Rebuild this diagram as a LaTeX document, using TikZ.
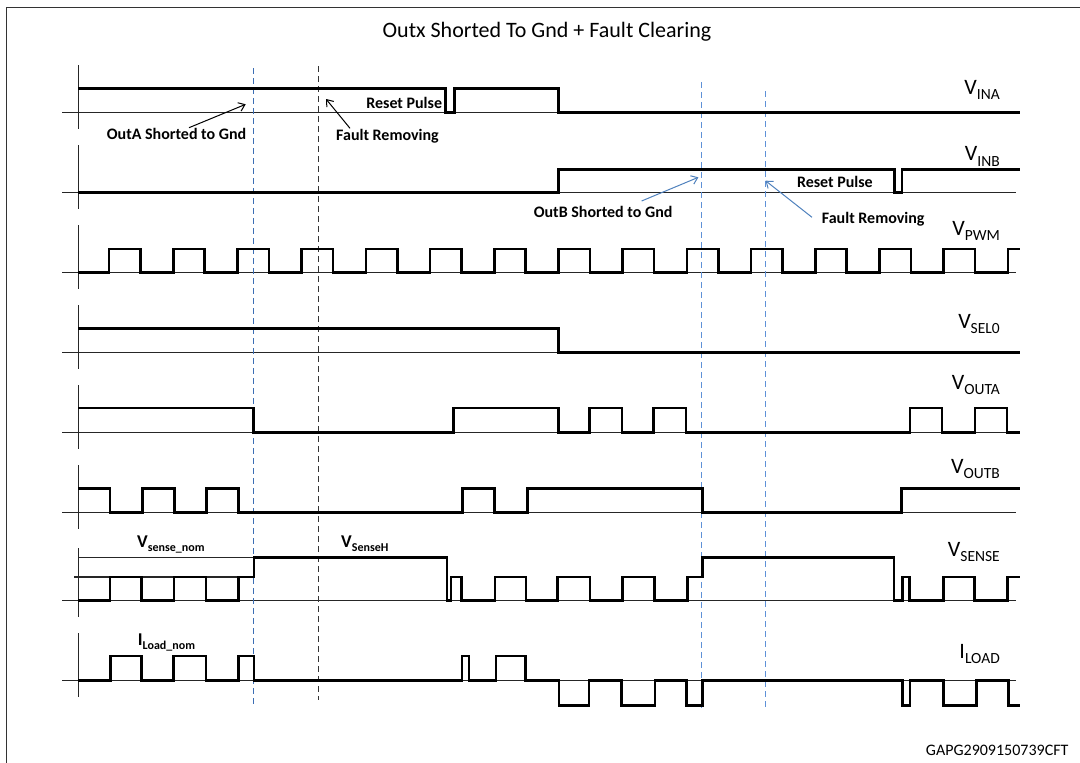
\documentclass[tikz,border=0pt]{standalone}
\usepackage{fontspec}
\setmainfont{Carlito}
\usetikzlibrary{arrows.meta}
\definecolor{dblue}{RGB}{60,110,180}
\definecolor{lblue}{RGB}{95,145,215}
\definecolor{ablue}{RGB}{79,129,189}
\newcommand{\siglab}[2]{{\fontsize{22}{24}\selectfont #1\raisebox{-5.5pt}{\fontsize{15.5}{16}\selectfont #2}}}
\newcommand{\boldlab}[2]{{\bfseries\fontsize{18}{20}\selectfont #1\raisebox{-4pt}{\fontsize{12}{13}\selectfont #2}}}
\tikzset{
  sigline/.style={line width=2.6pt, line join=miter, black},
  axisline/.style={line width=1.2pt, black!85},
  frameline/.style={line width=1.4pt, black!80},
  mark1/.style={dashed, dash pattern=on 6pt off 4pt, line width=1.1pt, dblue},
  mark2/.style={dashed, dash pattern=on 6pt off 4pt, line width=1.1pt, black!80},
  mark3/.style={dashed, dash pattern=on 6pt off 4pt, line width=1.1pt, lblue},
  siglabel/.style={anchor=base east, inner sep=0pt},
  annot/.style={font=\bfseries\fontsize{16}{18}\selectfont, inner sep=0pt},
  barrow/.style={line width=1pt, black, -{Straight Barb[length=6pt,width=9pt]}},
  bluearrow/.style={line width=1pt, ablue, -{Straight Barb[length=6pt,width=9pt]}}
}
\begin{document}
\begin{tikzpicture}[x=1pt,y=-1pt]
\useasboundingbox (0,0) rectangle (1080,763);
% frame
\draw[frameline] (6.2,763) -- (6.2,7.3) -- (1080,7.3);
\node[inner sep=0pt, font=\fontsize{22}{24}\selectfont] (title) at (547,31.7) {Outx Shorted To Gnd + Fault Clearing};

% axes
\foreach \y/\t in {112.5/47.3,192.5/47.3,272.5/47.3,352.5/47.3,432.7/47.3,512.7/47.3,600.7/52.4,680.7/47.3}{
  \draw[axisline] (62,\y) -- (1016,\y);
  \draw[axisline] (78.3,\y-\t) -- (78.3,\y+16);
}
% VSENSE reference lines
\draw[axisline] (74,577) -- (254,577);
\draw[axisline] (78.3,557.5) -- (254,557.5);

% marker lines
\draw[mark1] (253.3,68) -- (253.3,706);
\draw[mark2] (318.3,66) -- (318.3,700);
\draw[mark3] (701.7,82) -- (701.7,711.7);
\draw[mark3] (765.7,91) -- (765.7,706.7);

% VINA
\draw[sigline] (78.3,88.5) -- (445.7,88.5) -- (445.7,112.5) -- (454.3,112.5) -- (454.3,88.5) -- (558.3,88.5) -- (558.3,112.5) -- (1020,112.5);
% VINB
\draw[sigline] (78.3,192.5) -- (558.3,192.5) -- (558.3,169.3) -- (894.5,169.3) -- (894.5,192.5) -- (902,192.5) -- (902,169.3) -- (1020,169.3);
% VPWM
\draw[sigline] (78.3,272.5) \foreach \k in {0,...,13}{ -- ({109+64.2*\k},272.5) -- ++(0,-23.5) -- ++(31.5,0) -- ++(0,23.5) } -- (1007.8,272.5) -- (1007.8,249) -- (1020,249);
% VSEL0
\draw[sigline] (78.3,328.5) -- (558.3,328.5) -- (558.3,352.5) -- (1020,352.5);
% VOUTA
\draw[sigline] (78.3,408) -- (253.3,408) -- (253.3,432.7) -- (453.3,432.7) -- (453.3,408) -- (558.3,408) -- (558.3,432.7) -- (589.5,432.7) -- (589.5,408) -- (622,408) -- (622,432.7) -- (653.5,432.7) -- (653.5,408) -- (686,408) -- (686,432.7) -- (910,432.7) -- (910,408) -- (942,408) -- (942,432.7) -- (975,432.7) -- (975,408) -- (1007,408) -- (1007,432.7) -- (1020,432.7);
% VOUTB
\draw[sigline] (78.3,488.5) -- (110,488.5) -- (110,512.7) -- (142.3,512.7) -- (142.3,488.5) -- (174.3,488.5) -- (174.3,512.7) -- (206.7,512.7) -- (206.7,488.5) -- (238.7,488.5) -- (238.7,512.7) -- (462.7,512.7) -- (462.7,488.5) -- (494.3,488.5) -- (494.3,512.7) -- (527.3,512.7) -- (527.3,488.5) -- (702.3,488.5) -- (702.3,512.7) -- (901.7,512.7) -- (901.7,488.5) -- (1020,488.5);
% VSENSE
\draw[sigline] (78.3,600.7) -- (110,600.7) -- (110,577) -- (141.2,577) -- (141.2,600.7) -- (173.9,600.7) -- (173.9,577) -- (206,577) -- (206,600.7) -- (238.6,600.7) -- (238.6,577) -- (254,577) -- (254,557.5) -- (447,557.5) -- (447,600.7) -- (451,600.7) -- (451,577) -- (461.4,577) -- (461.4,600.7) -- (494.8,600.7) -- (494.8,577) -- (525.8,577) -- (525.8,600.7) -- (557.3,600.7) -- (557.3,577) -- (590,577) -- (590,600.7) -- (622.3,600.7) -- (622.3,577) -- (654.3,577) -- (654.3,600.7) -- (687.3,600.7) -- (687.3,577) -- (702.3,577) -- (702.3,557.5) -- (894,557.5) -- (894,600.7) -- (902.7,600.7) -- (902.7,577) -- (909.3,577) -- (909.3,600.7) -- (943.3,600.7) -- (943.3,577) -- (974.3,577) -- (974.3,600.7) -- (1007.7,600.7) -- (1007.7,577) -- (1020,577);
% ILOAD
\draw[sigline] (78.3,680.7) -- (110.2,680.7) -- (110.2,656) -- (141.2,656) -- (141.2,680.7) -- (173.2,680.7) -- (173.2,656) -- (206,656) -- (206,680.7) -- (238.3,680.7) -- (238.3,656) -- (254.1,656) -- (254.1,680.7) -- (462.1,680.7) -- (462.1,656) -- (469,656) -- (469,680.7) -- (495.9,680.7) -- (495.9,656) -- (525.2,656) -- (525.2,680.7) -- (559,680.7) -- (559,705.7) -- (589,705.7) -- (589,680.7) -- (621.7,680.7) -- (621.7,705.7) -- (655,705.7) -- (655,680.7) -- (686.7,680.7) -- (686.7,705.7) -- (702.3,705.7) -- (702.3,680.7) -- (902.7,680.7) -- (902.7,705.7) -- (910,705.7) -- (910,680.7) -- (943.3,680.7) -- (943.3,705.7) -- (976.7,705.7) -- (976.7,680.7) -- (1008.3,680.7) -- (1008.3,705.7) -- (1020,705.7);

% signal labels
\node[siglabel] (lina) at (1000,94.3) {\siglab{V}{INA}};
\node[siglabel] (linb) at (1000,160.7) {\siglab{V}{INB}};
\node[siglabel] (lpwm) at (1000,235) {\siglab{V}{PWM}};
\node[siglabel] (lsel) at (1000,328.3) {\siglab{V}{SEL0}};
\node[siglabel] (louta) at (1000,389.3) {\siglab{V}{OUTA}};
\node[siglabel] (loutb) at (1000,473.3) {\siglab{V}{OUTB}};
\node[siglabel] (lsense) at (1000,556) {\siglab{V}{SENSE}};
\node[siglabel] (lload) at (1000,658.3) {\siglab{I}{LOAD}};

% level labels
\node[anchor=base west, inner sep=0pt] (lnom) at (137,547.3) {\boldlab{V}{sense\_nom}};
\node[anchor=base west, inner sep=0pt] (lhigh) at (341,547.3) {\boldlab{V}{SenseH}};
\node[anchor=base west, inner sep=0pt] (linom) at (137.7,645) {\boldlab{I}{Load\_nom}};

% annotations
\node[annot, anchor=base east] (rpa) at (442.3,108.3) {Reset Pulse};
\node[annot, anchor=base west] (outa) at (106.7,139.3) {OutA Shorted to Gnd};
\node[annot, anchor=base west] (fra) at (336,140.7) {Fault Removing};
\node[annot, anchor=base east] (rpb) at (873,187.7) {Reset Pulse};
\node[annot, anchor=base east] (outb) at (672.6,217.3) {OutB Shorted to Gnd};
\node[annot, anchor=base west] (frb) at (821.7,223.3) {Fault Removing};

\coordinate (a1s) at (189,127.7);
\coordinate (a1e) at (245.7,104.3);
\coordinate (a2s) at (350,128.3);
\coordinate (a2e) at (326,99);
\coordinate (b1s) at (641.6,201);
\coordinate (b1e) at (698.4,177.3);
\coordinate (b2s) at (812,217.3);
\coordinate (b2e) at (765.5,180.7);
\draw[barrow] (a1s) -- (a1e);
\draw[barrow] (a2s) -- (a2e);
\draw[bluearrow] (b1s) -- (b1e);
\draw[bluearrow] (b2s) -- (b2e);

\node[anchor=base east, inner sep=0pt, font=\fontsize{16}{18}\selectfont] (code) at (1068.6,755.5) {GAPG2909150739CFT};
\end{tikzpicture}
\end{document}
